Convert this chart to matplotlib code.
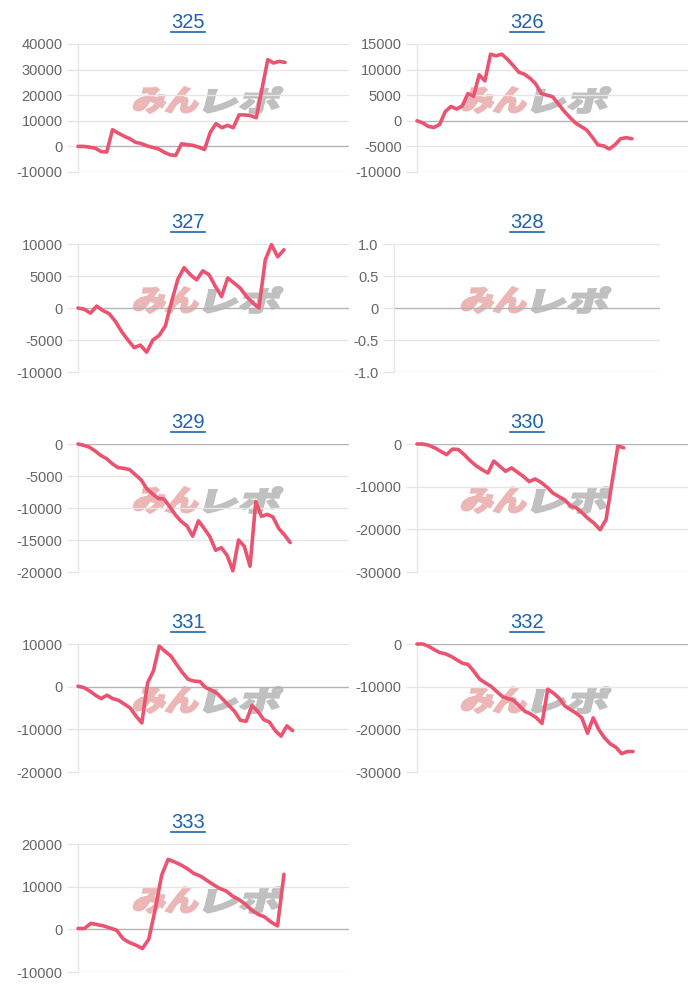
import numpy as np
import matplotlib.pyplot as plt
import matplotlib.transforms as mtransforms
from matplotlib.textpath import TextPath
from matplotlib.patches import PathPatch
from matplotlib.font_manager import FontProperties
from matplotlib.lines import Line2D

# データ（台番号ごとの差枚推移）
titles = ['325', '326', '327', '328', '329', '330', '331', '332', '333']

s325 = [0, 0, -300, -700, -2000, -2200, 6500, 5200, 4000, 3000, 1600, 1100, 200, -400,
        -1000, -2300, -3300, -3500, 1000, 700, 400, -300, -1200, 5500, 8900, 7300, 8200,
        7300, 12300, 12300, 12000, 11200, 22500, 33900, 32600, 33200, 32800]
s326 = [0, -400, -1100, -1300, -700, 1800, 2800, 2300, 2900, 5300, 4800, 9000, 7800, 13000,
        12700, 13000, 12000, 10800, 9500, 9100, 8300, 7200, 5300, 5000, 4700, 3300, 1900,
        700, -400, -1100, -1800, -3200, -4700, -4900, -5500, -4700, -3500, -3300, -3500]
s327 = [0, -200, -800, 300, -400, -900, -2100, -3700, -5000, -6200, -5800, -6900, -5000,
        -4300, -2800, 1000, 4500, 6300, 5200, 4400, 5800, 5200, 3400, 1800, 4700, 3900, 3100,
        1800, 800, 0, 7500, 9900, 8000, 9100]
s328 = []
s329 = [0, -200, -500, -1100, -1800, -2300, -3100, -3700, -3800, -4000, -4800, -5600, -7000,
        -7800, -8500, -8600, -9800, -11100, -12100, -12800, -14400, -12000, -13200, -14500,
        -16600, -16200, -17400, -19800, -15000, -16000, -19100, -9000, -11300, -11000,
        -11400, -13200, -14200, -15400]
s330 = [0, 0, -300, -900, -1700, -2500, -1200, -1300, -2500, -3900, -5100, -6000, -6800,
        -4000, -5200, -6400, -5600, -6600, -7600, -8800, -8200, -9000, -10100, -11500,
        -12300, -13100, -14500, -15000, -16200, -17500, -18600, -20100, -17700, -9100,
        -500, -900]
s331 = [100, -200, -1000, -2000, -2800, -2000, -2800, -3200, -4100, -5000, -6900, -8500, 900,
        3700, 9500, 8300, 7200, 5200, 3300, 1700, 1300, 1200, -200, -800, -1600, -3000,
        -4400, -5800, -7900, -8100, -4400, -5800, -7700, -8300, -10300, -11600, -9200, -10300]
s332 = [0, 0, -500, -1300, -2000, -2300, -2900, -3700, -4500, -4800, -6400, -8200, -9100,
        -9900, -11100, -12300, -12800, -13200, -14500, -15800, -16400, -17300, -18600,
        -10600, -11500, -12700, -14500, -15400, -16200, -17300, -20900, -17300, -20100,
        -22000, -23400, -24200, -25700, -25200, -25200]
s333 = [200, 200, 1400, 1100, 800, 300, -200, -2200, -3100, -3700, -4500, -2300, 4700, 12700,
        16400, 15800, 15100, 14200, 13100, 12500, 11500, 10500, 9600, 9000, 7800, 7000, 5900,
        4500, 3500, 2900, 1700, 800, 12900]

series = [s325, s326, s327, s328, s329, s330, s331, s332, s333]

yticks = [
    [-10000, 0, 10000, 20000, 30000, 40000],
    [-10000, -5000, 0, 5000, 10000, 15000],
    [-10000, -5000, 0, 5000, 10000],
    [-1.0, -0.5, 0, 0.5, 1.0],
    [-20000, -15000, -10000, -5000, 0],
    [-30000, -20000, -10000, 0],
    [-20000, -10000, 0, 10000],
    [-30000, -20000, -10000, 0],
    [-10000, 0, 10000, 20000],
]
ylabels_328 = ['-1.0', '-0.5', '0', '0.5', '1.0']

# 線の終わる位置（横軸に対する割合）
end_frac = [0.764, 0.793, 0.760, 1.0, 0.783, 0.763, 0.792, 0.797, 0.760]

W, H = 700, 1000
fig = plt.figure(figsize=(W / 100, H / 100), dpi=100)
fig.patch.set_facecolor('white')

LINE = '#eb5470'
GRID = '#e6e6e6'
ZERO = '#b4b4b4'
TICK = '#666666'
LINK = '#1f63ad'


def to_fig(x, y):
    return x / W, 1 - y / H


def watermark(cx_left, top):
    fp = FontProperties(family='Noto Sans CJK JP', weight='heavy')
    base = mtransforms.Affine2D().scale(1 / W, 1 / H) + fig.transFigure
    parts = [('みん', '#ecb6b6', cx_left, 64), ('レポ', '#c0c0c0', cx_left + 71, 74)]
    for txt, col, x0, wdt in parts:
        tp = TextPath((0, 0), txt, size=31, prop=fp)
        ext = tp.get_extents()
        tr = (mtransforms.Affine2D().translate(-ext.x0, -ext.y0)
              .scale(wdt / ext.width, 26 / ext.height)
              .skew_deg(14, 0).translate(x0 - 4, H - (top + 26)))
        patch = PathPatch(tr.transform_path(tp), facecolor=col, edgecolor=col,
                          linewidth=1.4, transform=base, zorder=-1)
        fig.add_artist(patch)


for k in range(9):
    r, c = divmod(k, 2)
    if c == 0:
        x0, x1 = 78, 349
        tx = 188
        wx = 136
    else:
        x0, x1 = 417, 688
        tx = 527
        wx = 464
    if titles[k] == '328':
        x0, x1 = 394, 660
    y0, y1 = 44 + 200 * r, 172 + 200 * r
    ax = fig.add_axes([x0 / W, 1 - y1 / H, (x1 - x0) / W, (y1 - y0) / H])
    ax.set_facecolor('none')

    ticks = yticks[k]
    ax.set_ylim(ticks[0], ticks[-1])
    ax.set_yticks(ticks)
    if titles[k] == '328':
        ax.set_yticklabels(ylabels_328)
    else:
        ax.set_yticklabels([str(t) for t in ticks])
    for t in ticks:
        ax.axhline(t, color=ZERO if t == 0 else GRID, lw=1.0, zorder=1)

    vals = series[k]
    if len(vals) > 0:
        xs = np.arange(len(vals))
        ax.set_xlim(0, (len(vals) - 1) / end_frac[k])
        ax.plot(xs, vals, color=LINE, lw=2.6, solid_joinstyle='round',
                solid_capstyle='round', zorder=3, clip_on=False)
    else:
        ax.set_xlim(0, 1)
    ax.set_xticks([])

    for side in ['top', 'right', 'bottom']:
        ax.spines[side].set_visible(False)
    ax.spines['left'].set_color(GRID)
    ax.spines['left'].set_linewidth(1.0)
    ax.tick_params(axis='y', length=8, width=1.0, color=GRID, pad=3,
                   labelsize=10.5, labelcolor=TICK)
    for lab in ax.get_yticklabels():
        lab.set_fontfamily('Liberation Sans')
    for t, tl in zip(ticks, ax.yaxis.get_major_ticks()):
        if t == 0:
            tl.tick1line.set_color(ZERO)

    fx, fy = to_fig(tx, 23 + 200 * r)
    fig.text(fx, fy, titles[k], ha='center', va='center', fontsize=14.5,
             color=LINK, family='Liberation Sans')

    watermark(wx, 87 + 200 * r)

# タイトルの下線
fig.canvas.draw()
renderer = fig.canvas.get_renderer()
for t in list(fig.texts):
    bb = t.get_window_extent(renderer)
    uy = bb.y0 + 1
    fig.add_artist(Line2D([bb.x0 / W, bb.x1 / W], [uy / H, uy / H], color=LINK, lw=1.2))

fig.savefig('out.png', dpi=100)
